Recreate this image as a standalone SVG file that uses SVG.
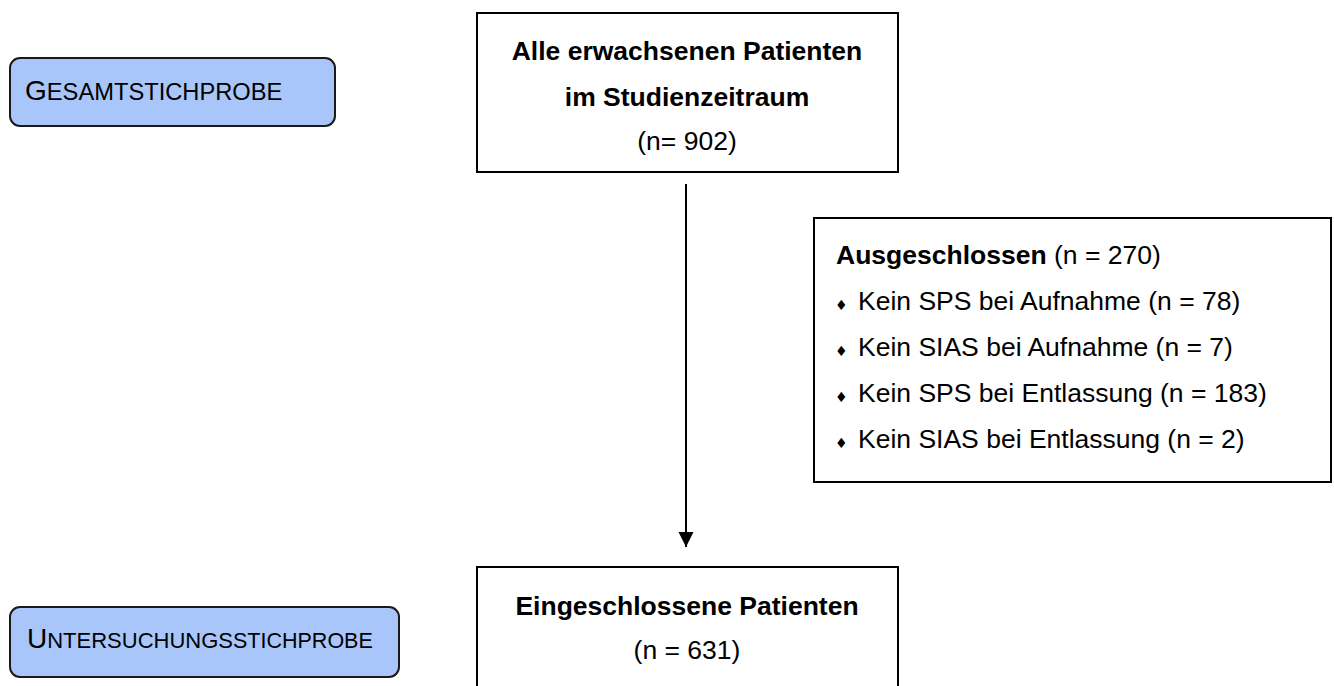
<svg xmlns="http://www.w3.org/2000/svg" width="1334" height="686" viewBox="0 0 1334 686">
<style>
.box{fill:#fff;stroke:#000;stroke-width:2}
.tag{fill:#a9c6fa;stroke:#1a1a1a;stroke-width:2}
.t{font-family:"Liberation Sans",Arial,sans-serif;font-size:26.5px;fill:#000}
.b{font-weight:bold}
.m{text-anchor:middle}
.bul{font-family:"DejaVu Sans",sans-serif;font-size:14px;fill:#000}
.conn{stroke:#000;stroke-width:2;fill:none}
</style>
<defs>
<marker id="ah" markerWidth="16" markerHeight="16" refX="15" refY="7.5" orient="auto" markerUnits="userSpaceOnUse">
<path d="M0,0 L15,7.5 L0,15 Z" fill="#000"/>
</marker>
</defs>
<rect width="1334" height="686" fill="#fff"/>
<g id="gesamt">
<rect class="tag" x="10" y="58" width="325" height="68" rx="10"/>
<text class="t" x="25" y="100"><tspan font-size="28">G</tspan><tspan font-size="23.7">ESAMTSTICHPROBE</tspan></text>
</g>
<g id="untersuchung">
<rect class="tag" x="10" y="607" width="389" height="70" rx="10"/>
<text class="t" x="27" y="648"><tspan font-size="28">U</tspan><tspan font-size="22">NTERSUCHUNGS</tspan><tspan font-size="21.5">STICHPROBE</tspan></text>
</g>
<g id="alle">
<rect class="box" x="477" y="13" width="421" height="159"/>
<text class="t b m" x="687" y="60">Alle erwachsenen Patienten</text>
<text class="t b m" x="687" y="106">im Studienzeitraum</text>
<text class="t m" x="687" y="150">(n= 902)</text>
</g>
<g id="ausgeschlossen">
<rect class="box" x="814" y="218" width="517" height="264"/>
<text class="t" x="836" y="264"><tspan class="b">Ausgeschlossen</tspan> (n = 270)</text>
<text class="bul" x="835" y="310">♦</text>
<text class="t" x="858" y="310">Kein SPS bei Aufnahme (n = 78)</text>
<text class="bul" x="835" y="356">♦</text>
<text class="t" x="858" y="356">Kein SIAS bei Aufnahme (n = 7)</text>
<text class="bul" x="835" y="402">♦</text>
<text class="t" x="858" y="402">Kein SPS bei Entlassung (n = 183)</text>
<text class="bul" x="835" y="448">♦</text>
<text class="t" x="858" y="448">Kein SIAS bei Entlassung (n = 2)</text>
</g>
<g id="eingeschlossen">
<rect class="box" x="477" y="567" width="421" height="140"/>
<text class="t b m" x="687" y="615">Eingeschlossene Patienten</text>
<text class="t m" x="687" y="659">(n = 631)</text>
</g>
<g id="connectors">
<line class="conn" x1="686" y1="184" x2="686" y2="547" marker-end="url(#ah)"/>
</g>
</svg>
